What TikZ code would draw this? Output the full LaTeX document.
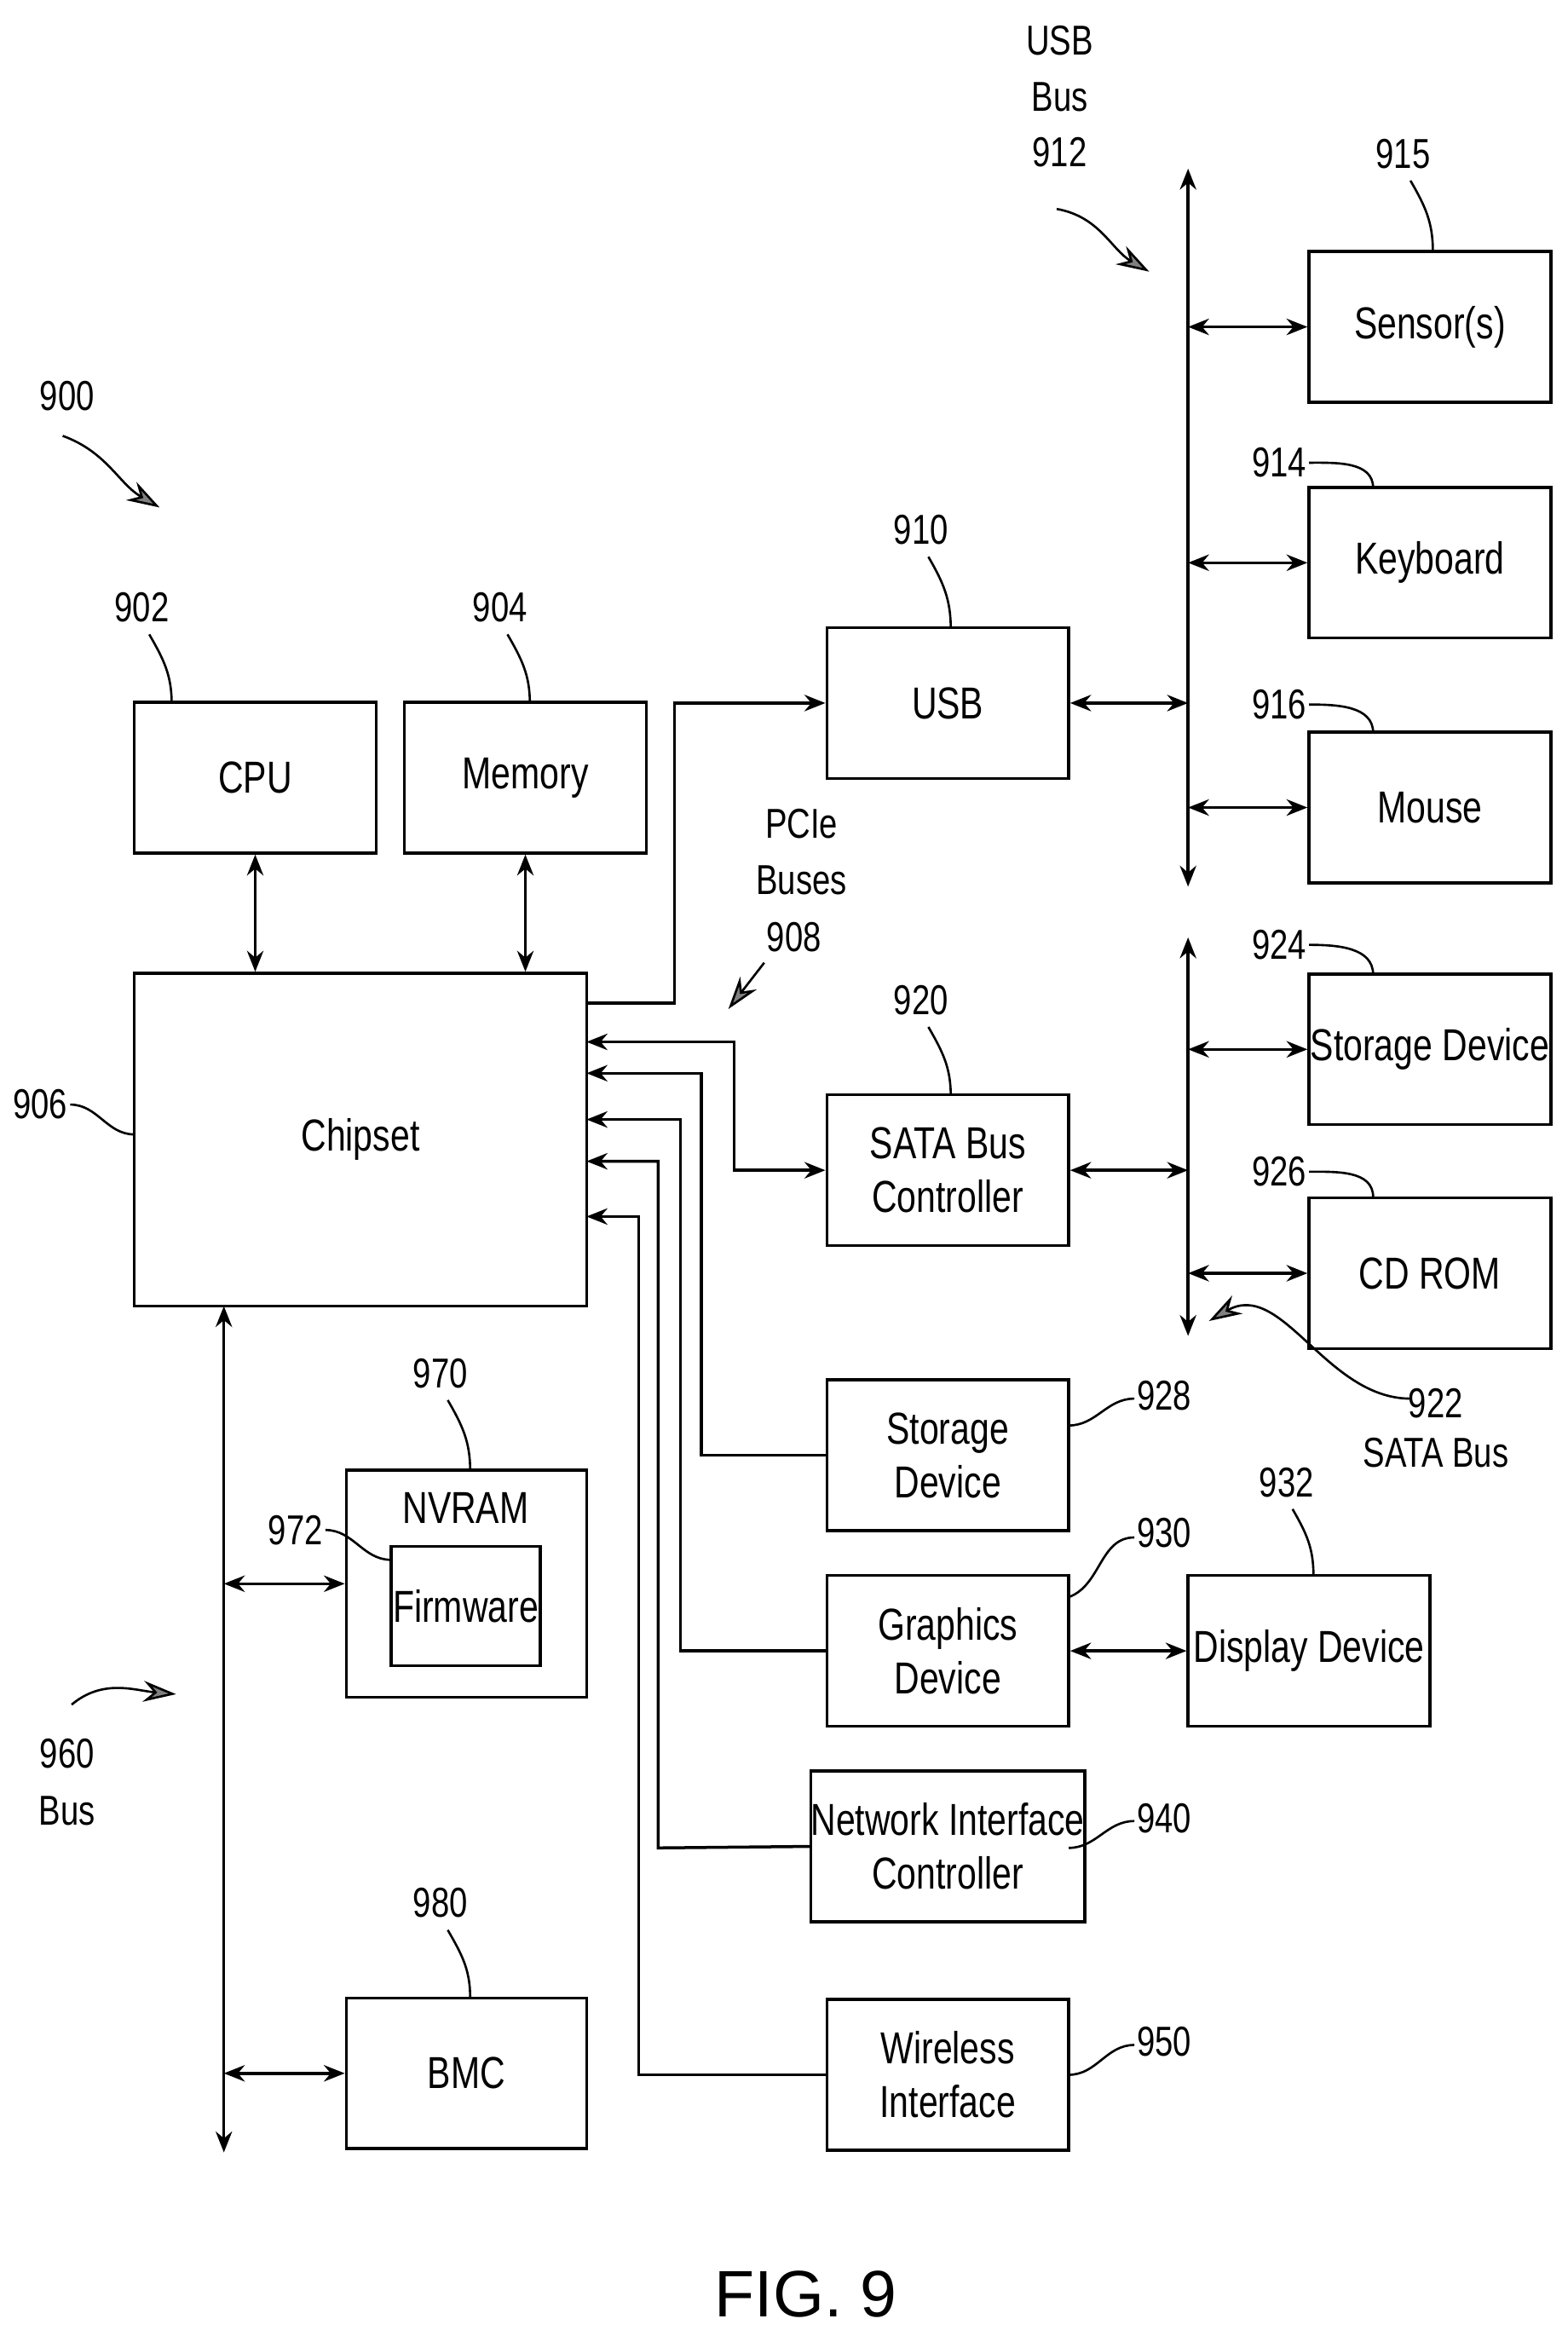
\documentclass[tikz,border=0pt]{standalone}
\usepackage{fontspec}
\setmainfont{Liberation Sans}[FakeStretch=0.78]
\newfontfamily\figfont{Liberation Sans}
\usetikzlibrary{arrows.meta}
\begin{document}
\begin{tikzpicture}[x=1pt,y=-1pt,line width=2pt,
 box/.style={draw,minimum width=162pt,minimum height=101pt,align=center,inner sep=0pt,font=\fontsize{30}{36}\selectfont},
 lab/.style={font=\fontsize{28}{32}\selectfont,inner sep=1pt},
 ar/.style={-{Stealth[length=14pt,width=11pt]}},
 dar/.style={{Stealth[length=14pt,width=11pt]}-{Stealth[length=14pt,width=11pt]}},
 hat/.style={line width=1.5pt,-{Stealth[length=22pt,width=14pt,fill=gray]}},
 ld/.style={line width=1.5pt}]
\useasboundingbox (0,0) rectangle (1050,1565);
% boxes
\node[box] (cpu) at (171,521) {CPU};
\node[box] (mem) at (352,521) {Memory};
\node[box,minimum width=303pt,minimum height=223pt] (chip) at (241.5,763.5) {Chipset};
\node[box] (usb) at (635,471) {USB};
\node[box] (sata) at (635,784) {SATA Bus\\Controller};
\node[box] (st2) at (635,975) {Storage\\Device};
\node[box] (gfx) at (635,1106) {Graphics\\Device};
\node[box] (disp) at (877,1106) {Display Device};
\node[box] (nic) at (635,1237) {Network Interface\\Controller};
\node[box] (wifi) at (635,1390) {Wireless\\Interface};
\node[box] (sens) at (958,219) {Sensor(s)};
\node[box] (kbd) at (958,377) {Keyboard};
\node[box] (mouse) at (958,541) {Mouse};
\node[box] (st1) at (958,703) {Storage Device};
\node[box] (cd) at (958,853) {CD ROM};
\node[box,minimum width=161pt,minimum height=152pt] (nv) at (312.5,1061) {};
\node[lab,font=\fontsize{30}{36}\selectfont] (nvt) at (312,1010) {NVRAM};
\node[box,minimum width=100pt,minimum height=80pt] (fw) at (312,1076) {Firmware};
\node[box,minimum width=161pt] (bmc) at (312.5,1389) {BMC};
% buses
\coordinate (ut) at (796,113); \coordinate (ub) at (796,594);
\draw[dar] (ut) -- (ub);
\coordinate (st) at (796,628); \coordinate (sb) at (796,895);
\draw[dar] (st) -- (sb);
\coordinate (bt) at (150,875); \coordinate (bb) at (150,1442);
\draw[dar] (bt) -- (bb);
\draw[dar] (cpu) -- (cpu|-chip.north);
\draw[dar] (mem) -- (mem|-chip.north);
\draw[dar] (usb.east) -- (usb.east-|ut);
\draw[dar] (sens.west) -- (sens.west-|ut);
\draw[dar] (kbd.west) -- (kbd.west-|ut);
\draw[dar] (mouse.west) -- (mouse.west-|ut);
\draw[dar] (sata.east) -- (sata.east-|ut);
\draw[dar] (st1.west) -- (st1.west-|ut);
\draw[dar] (cd.west) -- (cd.west-|ut);
\draw[dar] (gfx.east) -- (disp.west);
\draw[dar] (nv.west) -- (nv.west-|bt);
\draw[dar] (bmc.west) -- (bmc.west-|bt);
% PCIe
\draw[ar] (393,672) -- (452,672) -- (452,471) -- (usb.west);
\draw[dar] (393,698) -- (492,698) -- (492,784) -- (sata.west);
\draw[ar] (st2.west) -- (470,975) -- (470,719) -- (393,719);
\draw[ar] (gfx.west) -- (456,1106) -- (456,750) -- (393,750);
\draw[ar] (nic.west) -- (441,1238) -- (441,778) -- (393,778);
\draw[ar] (wifi.west) -- (428,1390) -- (428,815) -- (393,815);
% labels
\node[lab] at (45,265) {900};
\draw[hat] (42,292) to[out=-20,in=150] (107,340);
\node[lab] (l902) at (95,407) {902}; \draw[ld] (100,425) to[out=-60,in=90] (115,471);
\node[lab] (l904) at (335,407) {904}; \draw[ld] (340,425) to[out=-60,in=90] (355,471);
\node[lab] (l910) at (617,355) {910}; \draw[ld] (622,373) to[out=-60,in=90] (637,421);
\node[lab] (l915) at (940,103) {915}; \draw[ld] (945,121) to[out=-60,in=90] (960,168);
\node[lab] (l914) at (857,310) {914}; \draw[ld] (877,310) to[out=0,in=90] (920,327);
\node[lab] (l916) at (857,472) {916}; \draw[ld] (877,472) to[out=0,in=90] (920,491);
\node[lab] (l924) at (857,633) {924}; \draw[ld] (877,633) to[out=0,in=90] (920,653);
\node[lab] (l926) at (857,785) {926}; \draw[ld] (877,785) to[out=0,in=90] (920,802);
\node[lab] (l906) at (27,740) {906}; \draw[ld] (47,740) to[out=0,in=180] (90,760);
\node[lab] at (537,552) {PCIe}; \node[lab] at (537,590) {Buses}; \node[lab] at (532,628) {908};
\draw[hat] (512,645) -- (488,676);
\node[lab] (l920) at (617,670) {920}; \draw[ld] (622,688) to[out=-60,in=90] (637,734);
\node[lab] at (710,27) {USB}; \node[lab] at (710,65) {Bus}; \node[lab] at (710,102) {912};
\draw[hat] (708,140) to[out=-10,in=150] (770,182);
\node[lab] at (962,940) {922}; \node[lab] at (962,973) {SATA Bus};
\draw[hat] (945,937) to[out=180,in=30] (810,885);
\node[lab] (l928) at (780,935) {928}; \draw[ld] (716,955) to[out=0,in=180] (760,937);
\node[lab] (l930) at (780,1027) {930}; \draw[ld] (716,1070) to[out=20,in=180] (760,1030);
\node[lab] (l932) at (862,993) {932}; \draw[ld] (866,1011) to[out=-60,in=90] (880,1055);
\node[lab] (l940) at (780,1218) {940}; \draw[ld] (716,1238) to[out=0,in=180] (760,1220);
\node[lab] (l950) at (780,1368) {950}; \draw[ld] (716,1390) to[out=0,in=180] (760,1370);
\node[lab] (l970) at (295,920) {970}; \draw[ld] (300,938) to[out=-60,in=90] (315,985);
\node[lab] (l972) at (198,1025) {972}; \draw[ld] (218,1025) to[out=0,in=180] (262,1045);
\node[lab] (l980) at (295,1275) {980}; \draw[ld] (300,1293) to[out=-60,in=90] (315,1338);
\node[lab] at (45,1175) {960}; \node[lab] at (45,1213) {Bus};
\draw[hat] (48,1142) to[out=40,in=175] (118,1135);
\node[font=\figfont\fontsize{44}{50}\selectfont] at (540,1537) {FIG. 9};
\end{tikzpicture}
\end{document}
